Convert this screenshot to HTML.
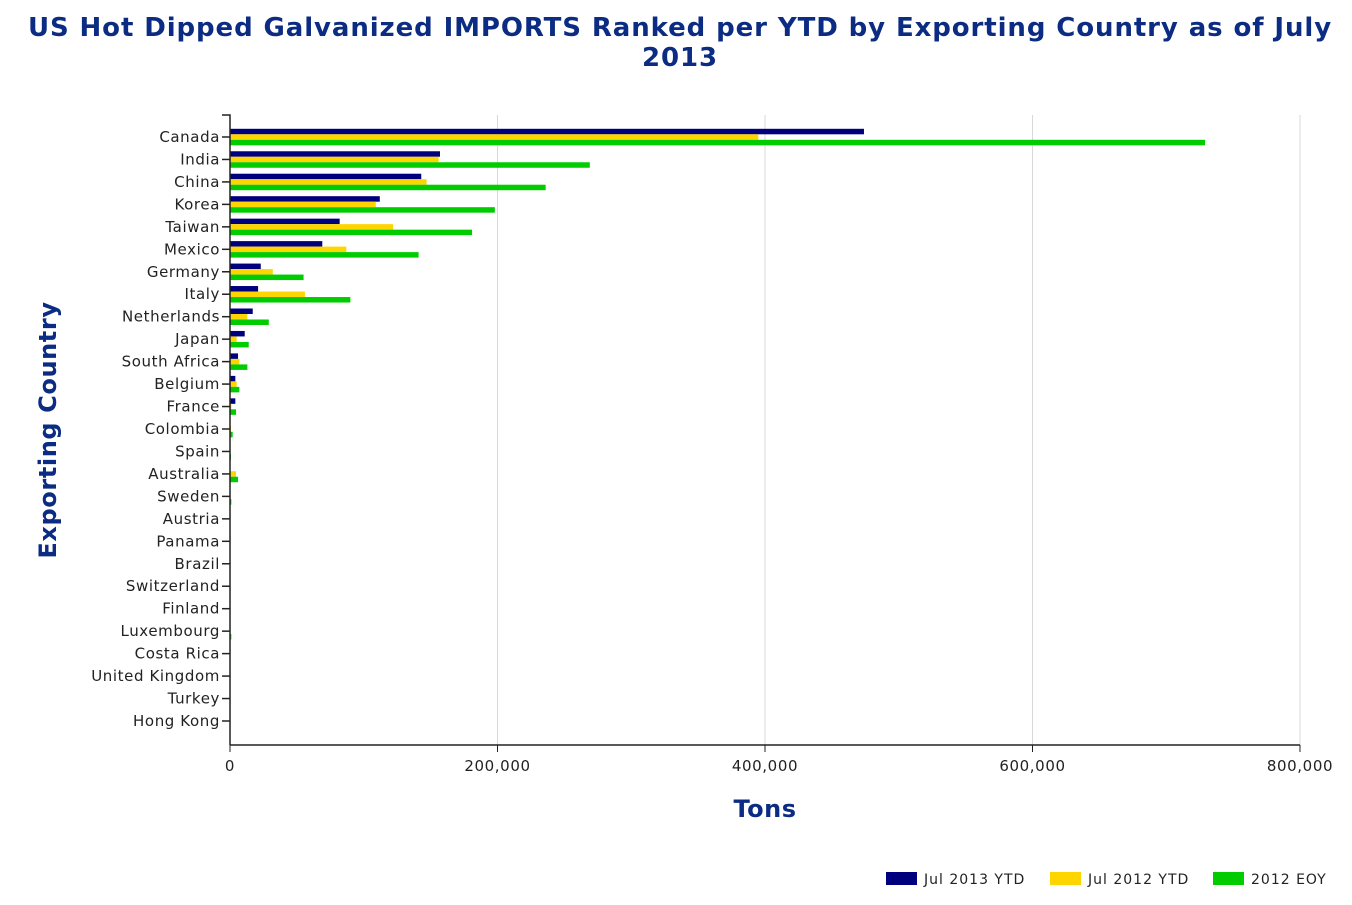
<!DOCTYPE html>
<html><head><meta charset="utf-8"><style>
body{margin:0;background:#fff;width:1352px;height:900px;overflow:hidden;font-family:"Liberation Sans","DejaVu Sans",sans-serif}
</style></head><body>
<svg width="1352" height="900" xmlns="http://www.w3.org/2000/svg">
<text x="680" y="36" text-anchor="middle" font-family="DejaVu Sans, sans-serif" font-weight="bold" font-size="26" letter-spacing="0.9" fill="#0b2c82">US Hot Dipped Galvanized IMPORTS Ranked per YTD by Exporting Country as of July</text>
<text x="680" y="66" text-anchor="middle" font-family="DejaVu Sans, sans-serif" font-weight="bold" font-size="26" letter-spacing="0.9" fill="#0b2c82">2013</text>
<g id="grid"></g>
<g id="bars"></g>
<g id="axes"></g>
<text x="765" y="817" text-anchor="middle" font-family="DejaVu Sans, sans-serif" font-weight="bold" font-size="24" letter-spacing="0.5" fill="#0b2c82">Tons</text>
<text transform="translate(56,430) rotate(-90)" text-anchor="middle" font-family="DejaVu Sans, sans-serif" font-weight="bold" font-size="24" letter-spacing="0.6" fill="#0b2c82">Exporting Country</text>
<g font-family="DejaVu Sans, sans-serif" font-size="14" letter-spacing="1" fill="#222">
<rect x="886" y="872" width="31" height="13" fill="#00007f"/>
<text x="924" y="884">Jul 2013 YTD</text>
<rect x="1050" y="872" width="31" height="13" fill="#ffd500"/>
<text x="1088" y="884">Jul 2012 YTD</text>
<rect x="1213" y="872" width="31" height="13" fill="#00cc00"/>
<text x="1251" y="884">2012 EOY</text>
</g>
</svg>
<script>
const categories=["Canada","India","China","Korea","Taiwan","Mexico","Germany","Italy","Netherlands","Japan","South Africa","Belgium","France","Colombia","Spain","Australia","Sweden","Austria","Panama","Brazil","Switzerland","Finland","Luxembourg","Costa Rica","United Kingdom","Turkey","Hong Kong"];
const jul2013=[474000,157000,143000,112000,82000,69000,23000,21000,17000,11000,6000,4000,4000,0,0,0,0,0,0,0,0,0,0,0,0,0,0];
const jul2012=[395000,156000,147000,109000,122000,87000,32000,56000,13000,5000,7000,5000,1000,300,0,4500,0,0,0,0,0,0,0,0,0,0,0];
const eoy2012=[729000,269000,236000,198000,181000,141000,55000,90000,29000,14000,13000,7000,4500,2000,500,6000,1000,0,0,0,0,0,1000,0,0,0,0];
const xTicks=[0,200000,400000,600000,800000];
const xTickLabels=["0","200,000","400,000","600,000","800,000"];
const NS="http://www.w3.org/2000/svg";
const x0=230,x1=1300,yTop=115,yBot=745;
const xs=v=>x0+(v/800000)*(x1-x0);
const ys=i=>137+i*(584/26);
function mk(tag,attrs,parent){const e=document.createElementNS(NS,tag);for(const k in attrs)e.setAttribute(k,attrs[k]);parent.appendChild(e);return e;}
const grid=document.getElementById('grid'),bars=document.getElementById('bars'),axes=document.getElementById('axes');
xTicks.forEach((t,i)=>{
 if(i>0){const g=mk('line',{x1:xs(t),x2:xs(t),y1:yTop,y2:yBot,stroke:'#d8d8d8','stroke-width':1},grid);
 
 }
 const tk=mk('line',{x1:xs(t),x2:xs(t),y1:yBot,y2:yBot+7,stroke:'#222'},axes);
 
 
 const tl=mk('text',{x:xs(t),y:yBot+26,'text-anchor':'middle','font-family':'DejaVu Sans, sans-serif','font-size':15,'letter-spacing':0.6,fill:'#222'},axes);
 tl.textContent=xTickLabels[i];
 
 
});
const series=[[jul2013,'#00007f',-8.2],[jul2012,'#ffd500',-2.7],[eoy2012,'#00cc00',2.8]];
categories.forEach((c,i)=>{
 const y=ys(i);
 series.forEach(([arr,col,off])=>{
  const v=arr[i]; if(v<=0)return;
  const r=mk('rect',{x:x0,y:y+off,width:Math.max(xs(v)-x0,1),height:5.5,fill:col},bars);
  
  
 });
 const tk=mk('line',{x1:x0-8,x2:x0,y1:y,y2:y,stroke:'#222','stroke-width':1.5},axes);
 
 
 const tl=mk('text',{x:x0-10,y:y+5,'text-anchor':'end','font-family':'DejaVu Sans, sans-serif','font-size':15,'letter-spacing':0.6,fill:'#222'},axes);
 tl.textContent=c;
 
 
});
const ya=mk('path',{d:`M${x0-8},${yTop}H${x0}V${yBot}`,stroke:'#222','stroke-width':1.5,fill:'none'},axes);


const xa=mk('line',{x1:x0,x2:x1,y1:yBot,y2:yBot,stroke:'#222','stroke-width':1.5},axes);


</script>
</body></html>
